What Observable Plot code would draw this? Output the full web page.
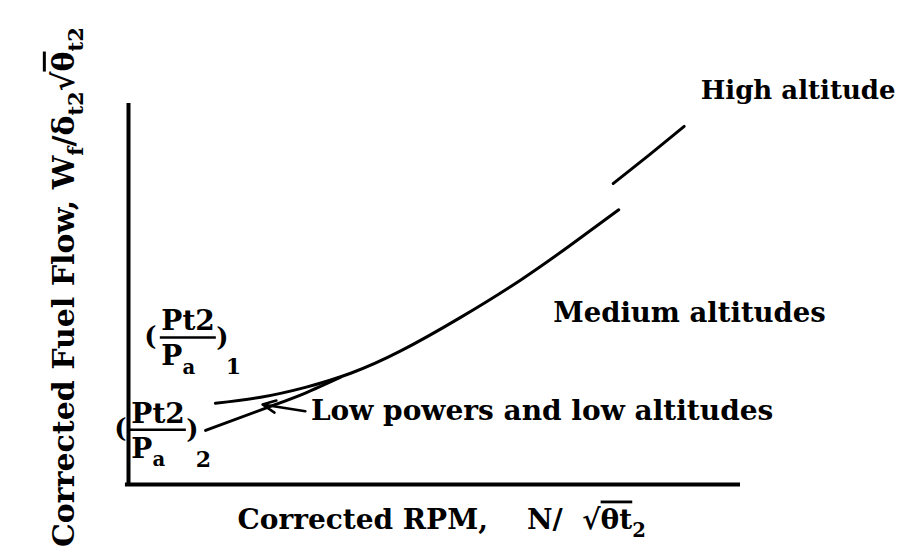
<!DOCTYPE html>
<html>
<head>
<meta charset="utf-8">
<script src="https://cdn.jsdelivr.net/npm/d3@7"></script>
<script src="https://cdn.jsdelivr.net/npm/@observablehq/plot@0.6"></script>
<style>
  html, body { margin: 0; padding: 0; background: #fff; }
</style>
</head>
<body>
<div id="chart"></div>
<script>
// ---- Data (schematic; axes are unitless 0..100) ----
const mediumX = [14.2, 21.6, 28.9, 36.3, 44.4, 54.2, 64.1, 72.2, 80.1];
const mediumY = [21.3, 22.9, 25.5, 29.2, 35.0, 43.8, 53.7, 62.8, 72.1];

const lowX = [12.6, 23.2, 28.9, 34.6];
const lowY = [14.2, 20.5, 24.0, 28.1];

const highX = [79.2, 85.0, 90.8];
const highY = [79.0, 86.4, 94.0];

// annotation anchors (data units)
const noteText = ["High altitude", "Medium altitudes", "Low powers and low altitudes"];
const noteX = [93.5, 69.4, 29.8];
const noteY = [103.4, 44.9, 19.4];

const arrowFrom = [{x: 28.9, y: 19.2}];
const arrowTo = [{x: 21.9, y: 21.0}];

const ratioIndex = ["1", "2"];
const ratioX = [5.2, 0.3];
const ratioY = [38.6, 14.4];

const xLabel = "Corrected RPM,\u00a0\u00a0\u00a0\u00a0N/\u00a0\u00a0√~{θt}_{2}";
const yLabel = "Corrected Fuel Flow, W_{f}/δ_{t2}√~{θ}_{t2}";

// ---- build tables ----
const toPts = (xs, ys) => xs.map((x, i) => ({x, y: ys[i]}));
const medium = toPts(mediumX, mediumY);
const low = toPts(lowX, lowY);
const high = toPts(highX, highY);
const notes = noteText.map((t, i) => ({t, x: noteX[i], y: noteY[i]}));
const arrows = arrowFrom.map((a, i) => ({x1: a.x, y1: a.y, x2: arrowTo[i].x, y2: arrowTo[i].y}));
const ratios = ratioIndex.map((k, i) => ({k, x: ratioX[i], y: ratioY[i]}));

const font = "DejaVu Serif";
const barLen = 9.15; // fraction bar length in x units

const chart = Plot.plot({
  width: 917,
  height: 552,
  marginLeft: 128,
  marginRight: 177,
  marginTop: 103,
  marginBottom: 68,
  x: {domain: [0, 100], axis: null},
  y: {domain: [0, 100], axis: null},
  style: {fontFamily: font, background: "#fff", color: "#000", overflow: "visible"},
  marks: [
    // axes
    Plot.ruleX([0], {y1: 0, y2: 100, stroke: "#000", strokeWidth: 4}),
    Plot.ruleY([0], {x1: -0.5, x2: 100, stroke: "#000", strokeWidth: 4}),
    // curves
    Plot.line(medium, {x: "x", y: "y", curve: "natural", stroke: "#000", strokeWidth: 3}),
    Plot.line(low, {x: "x", y: "y", curve: "natural", stroke: "#000", strokeWidth: 3}),
    Plot.line(high, {x: "x", y: "y", curve: "natural", stroke: "#000", strokeWidth: 3}),
    // arrow
    Plot.arrow(arrows, {x1: "x1", y1: "y1", x2: "x2", y2: "y2", stroke: "#000", strokeWidth: 2.5, headLength: 14, headAngle: 50}),
    // annotations
    Plot.text(notes.slice(0, 1), {x: "x", y: "y", text: "t", textAnchor: "start", lineAnchor: "middle", fontSize: 26, fontWeight: "bold", fill: "#000"}),
    Plot.text(notes.slice(1, 2), {x: "x", y: "y", text: "t", textAnchor: "start", lineAnchor: "middle", fontSize: 27.5, fontWeight: "bold", fill: "#000"}),
    Plot.text(notes.slice(2), {x: "x", y: "y", text: "t", textAnchor: "start", lineAnchor: "middle", fontSize: 28, fontWeight: "bold", fill: "#000"}),
    // pressure ratio fractions
    Plot.ruleY(ratios, {y: "y", x1: "x", x2: d => d.x + barLen, stroke: "#000", strokeWidth: 2.5}),
    Plot.text(ratios, {x: "x", y: "y", text: () => "Pt2", textAnchor: "start", lineAnchor: "bottom", dx: 1, dy: -7, fontSize: 28, fontWeight: "bold", fill: "#000"}),
    Plot.text(ratios, {x: "x", y: "y", text: () => "P_{a}", textAnchor: "start", lineAnchor: "top", dx: 1, dy: 8, fontSize: 28, fontWeight: "bold", fill: "#000"}),
    Plot.text(ratios, {x: "x", y: "y", text: () => "(", textAnchor: "middle", lineAnchor: "middle", dx: -10, dy: -1, fontSize: 26, fontWeight: "bold", fill: "#000"}),
    Plot.text(ratios, {x: "x", y: "y", text: () => ")", textAnchor: "middle", lineAnchor: "middle", dx: 62, dy: 0, fontSize: 26, fontWeight: "bold", fill: "#000"}),
    Plot.text(ratios, {x: "x", y: "y", text: "k", textAnchor: "middle", lineAnchor: "middle", dx: 73, dy: 30, fontSize: 22, fontWeight: "bold", fill: "#000"}),
    // axis titles
    Plot.text([xLabel], {x: 17.8, y: -9.2, text: d => d, textAnchor: "start", lineAnchor: "middle", fontSize: 28, fontWeight: "bold", fill: "#000"}),
    Plot.text([yLabel], {x: -10.5, y: 51.8, text: d => d, rotate: -90, textAnchor: "middle", lineAnchor: "middle", fontSize: 30, fontWeight: "bold", fill: "#000"})
  ]
});

// rich text: _{..} subscript, ~{..} overline
const SVGNS = "http://www.w3.org/2000/svg";
for (const t of chart.querySelectorAll("text")) {
  const s = t.textContent;
  if (!/[_~]\{/.test(s)) continue;
  t.textContent = "";
  const parts = s.split(/([_~]\{[^}]*\})/).filter(p => p);
  let down = false;
  for (const p of parts) {
    const ts = document.createElementNS(SVGNS, "tspan");
    if (p.startsWith("_{")) {
      ts.textContent = p.slice(2, -1);
      ts.setAttribute("font-size", "0.7em");
      if (!down) { ts.setAttribute("dy", "0.45em"); down = true; }
    } else {
      let txt = p;
      if (p.startsWith("~{")) { txt = p.slice(2, -1); ts.setAttribute("style", "text-decoration: overline"); }
      ts.textContent = txt;
      if (down) { ts.setAttribute("dy", "-0.315em"); down = false; }
    }
    t.appendChild(ts);
  }
}

document.getElementById("chart").appendChild(chart);
</script>
</body>
</html>
